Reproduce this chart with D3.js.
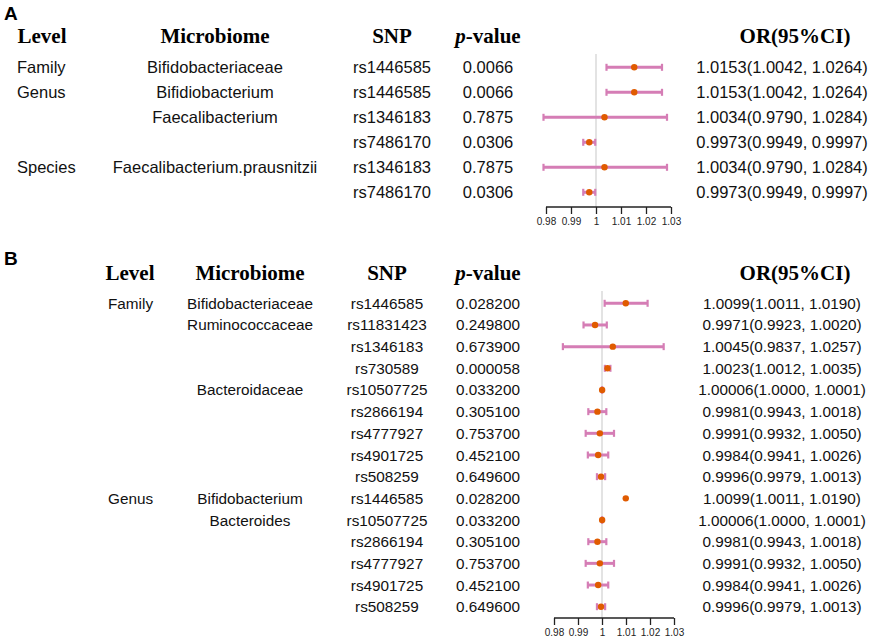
<!DOCTYPE html>
<html>
<head>
<meta charset="utf-8">
<script src="https://cdn.jsdelivr.net/npm/d3@7"></script>
<style>
  html, body { margin: 0; padding: 0; background: #fff; }
  svg { display: block; }
</style>
</head>
<body>
<svg id="chart" width="879" height="641"></svg>
<script>
// ---------- Panel A data ----------
const aLevel = ["Family", "Genus", "", "", "Species", ""];
const aMicrobiome = ["Bifidobacteriaceae", "Bifidiobacterium", "Faecalibacterium", "", "Faecalibacterium.prausnitzii", ""];
const aSnp = ["rs1446585", "rs1446585", "rs1346183", "rs7486170", "rs1346183", "rs7486170"];
const aPval = ["0.0066", "0.0066", "0.7875", "0.0306", "0.7875", "0.0306"];
const aOR = ["1.0153", "1.0153", "1.0034", "0.9973", "1.0034", "0.9973"];
const aLo = ["1.0042", "1.0042", "0.9790", "0.9949", "0.9790", "0.9949"];
const aHi = ["1.0264", "1.0264", "1.0284", "0.9997", "1.0284", "0.9997"];
const aShowCI = [true, true, true, true, true, true];

// ---------- Panel B data ----------
const bLevel = ["Family", "", "", "", "", "", "", "", "", "Genus", "", "", "", "", ""];
const bMicrobiome = ["Bifidobacteriaceae", "Ruminococcaceae", "", "", "Bacteroidaceae", "", "", "", "",
                     "Bifidobacterium", "Bacteroides", "", "", "", ""];
const bSnp = ["rs1446585", "rs11831423", "rs1346183", "rs730589", "rs10507725", "rs2866194", "rs4777927", "rs4901725", "rs508259",
              "rs1446585", "rs10507725", "rs2866194", "rs4777927", "rs4901725", "rs508259"];
const bPval = ["0.028200", "0.249800", "0.673900", "0.000058", "0.033200", "0.305100", "0.753700", "0.452100", "0.649600",
               "0.028200", "0.033200", "0.305100", "0.753700", "0.452100", "0.649600"];
const bOR = ["1.0099", "0.9971", "1.0045", "1.0023", "1.00006", "0.9981", "0.9991", "0.9984", "0.9996",
             "1.0099", "1.00006", "0.9981", "0.9991", "0.9984", "0.9996"];
const bLo = ["1.0011", "0.9923", "0.9837", "1.0012", "1.0000", "0.9943", "0.9932", "0.9941", "0.9979",
             "1.0011", "1.0000", "0.9943", "0.9932", "0.9941", "0.9979"];
const bHi = ["1.0190", "1.0020", "1.0257", "1.0035", "1.0001", "1.0018", "1.0050", "1.0026", "1.0013",
             "1.0190", "1.0001", "1.0018", "1.0050", "1.0026", "1.0013"];
const bShowCI = [true, true, true, true, true, true, true, true, true, false, true, true, true, true, true];

// ---------- Shared ----------
const headers = ["Level", "Microbiome", "SNP", "p-value", "OR(95%CI)"];
const tickValues = [0.98, 0.99, 1, 1.01, 1.02, 1.03];
const tickLabels = ["0.98", "0.99", "1", "1.01", "1.02", "1.03"];
const xDomain = [0.98, 1.03];

const svg = d3.select("#chart");
const SANS = "'Liberation Sans', Arial, Helvetica, sans-serif";
const SERIF = "'Liberation Serif', 'Times New Roman', serif";
const PINK = "#D57DB5";
const ORANGE = "#E05B00";

function drawPanel(p) {
  const g = svg.append("g");
  const n = p.snp.length;
  const y = d3.scalePoint().domain(d3.range(n)).range([p.rowTop, p.rowBottom]);
  const x = d3.scaleLinear().domain(xDomain).range(p.xRange);

  // panel letter
  g.append("text").attr("x", 4).attr("y", p.letterY)
    .attr("font-family", SANS).attr("font-weight", "bold").attr("font-size", 19)
    .text(p.letter);

  // headers
  const hx = [p.colLevelHeader, p.colMicro, p.colSnp, p.colP, p.colOR];
  headers.forEach((h, i) => {
    const t = g.append("text").attr("x", hx[i]).attr("y", p.headerY)
      .attr("text-anchor", "middle").attr("dominant-baseline", "central")
      .attr("font-family", SERIF).attr("font-weight", "bold").attr("font-size", 21);
    if (h === "p-value") {
      t.append("tspan").attr("font-style", "italic").text("p");
      t.append("tspan").text("-value");
    } else {
      t.text(h);
    }
  });

  const rowFont = p.rowFont;
  const rows = d3.range(n);
  function col(arr, xx, anchor) {
    g.append("g").selectAll("text").data(rows).join("text")
      .attr("x", xx).attr("y", i => y(i))
      .attr("text-anchor", anchor).attr("dominant-baseline", "central")
      .attr("font-family", SANS).attr("font-size", rowFont).attr("fill", "#111")
      .text(i => arr[i]);
  }
  col(p.level, p.colLevel, "start");
  col(p.micro, p.colMicro, "middle");
  col(p.snp, p.colSnp, "middle");
  col(p.pval, p.colP, "middle");
  col(rows.map(i => `${p.or[i]}(${p.lo[i]}, ${p.hi[i]})`), p.colORText, "middle");

  // reference line
  g.append("line").attr("x1", x(1)).attr("x2", x(1))
    .attr("y1", p.refTop).attr("y2", p.axisY)
    .attr("stroke", "#d4d4d4").attr("stroke-width", 1.3);

  // CI bars
  const ci = g.append("g").selectAll("g").data(rows.filter(i => p.showCI[i])).join("g");
  ci.append("line")
    .attr("x1", i => x(+p.lo[i])).attr("x2", i => x(+p.hi[i]))
    .attr("y1", i => y(i)).attr("y2", i => y(i))
    .attr("stroke", PINK).attr("stroke-width", 3);
  ci.append("line")
    .attr("x1", i => x(+p.lo[i])).attr("x2", i => x(+p.lo[i]))
    .attr("y1", i => y(i) - 3.5).attr("y2", i => y(i) + 3.5)
    .attr("stroke", PINK).attr("stroke-width", 2.2);
  ci.append("line")
    .attr("x1", i => x(+p.hi[i])).attr("x2", i => x(+p.hi[i]))
    .attr("y1", i => y(i) - 3.5).attr("y2", i => y(i) + 3.5)
    .attr("stroke", PINK).attr("stroke-width", 2.2);

  // points
  g.append("g").selectAll("circle").data(rows).join("circle")
    .attr("cx", i => x(+p.or[i])).attr("cy", i => y(i)).attr("r", 3.2)
    .attr("fill", ORANGE);

  // axis
  const axis = d3.axisBottom(x).tickValues(tickValues)
    .tickFormat((d, i) => tickLabels[i]).tickSizeOuter(0).tickSize(7).tickPadding(4);
  const ag = g.append("g").attr("transform", `translate(0,${p.axisY})`).call(axis);
  ag.select(".domain").attr("stroke", "#222").attr("stroke-width", 1.3).attr("d", `M${p.xRange[0]},0H${p.xRange[1]}`);
  ag.selectAll(".tick line").attr("stroke", "#222").attr("stroke-width", 1.3);
  ag.selectAll(".tick text").attr("font-family", SANS).attr("font-size", 10).attr("fill", "#222");
}

drawPanel({
  letter: "A", letterY: 20,
  level: aLevel, micro: aMicrobiome, snp: aSnp, pval: aPval, or: aOR, lo: aLo, hi: aHi, showCI: aShowCI,
  headerY: 36, rowTop: 67.3, rowBottom: 192.3, rowFont: 16.5,
  colLevelHeader: 42, colLevel: 17, colMicro: 215, colSnp: 392, colP: 488, colOR: 795, colORText: 782,
  xRange: [546, 671], refTop: 54, axisY: 207
});

drawPanel({
  letter: "B", letterY: 265,
  level: bLevel, micro: bMicrobiome, snp: bSnp, pval: bPval, or: bOR, lo: bLo, hi: bHi, showCI: bShowCI,
  headerY: 273, rowTop: 303.3, rowBottom: 606.7, rowFont: 15.3,
  colLevelHeader: 130, colLevel: 108, colMicro: 250, colSnp: 387, colP: 488, colOR: 795, colORText: 782,
  xRange: [554, 674], refTop: 291, axisY: 618
});
</script>
</body>
</html>
